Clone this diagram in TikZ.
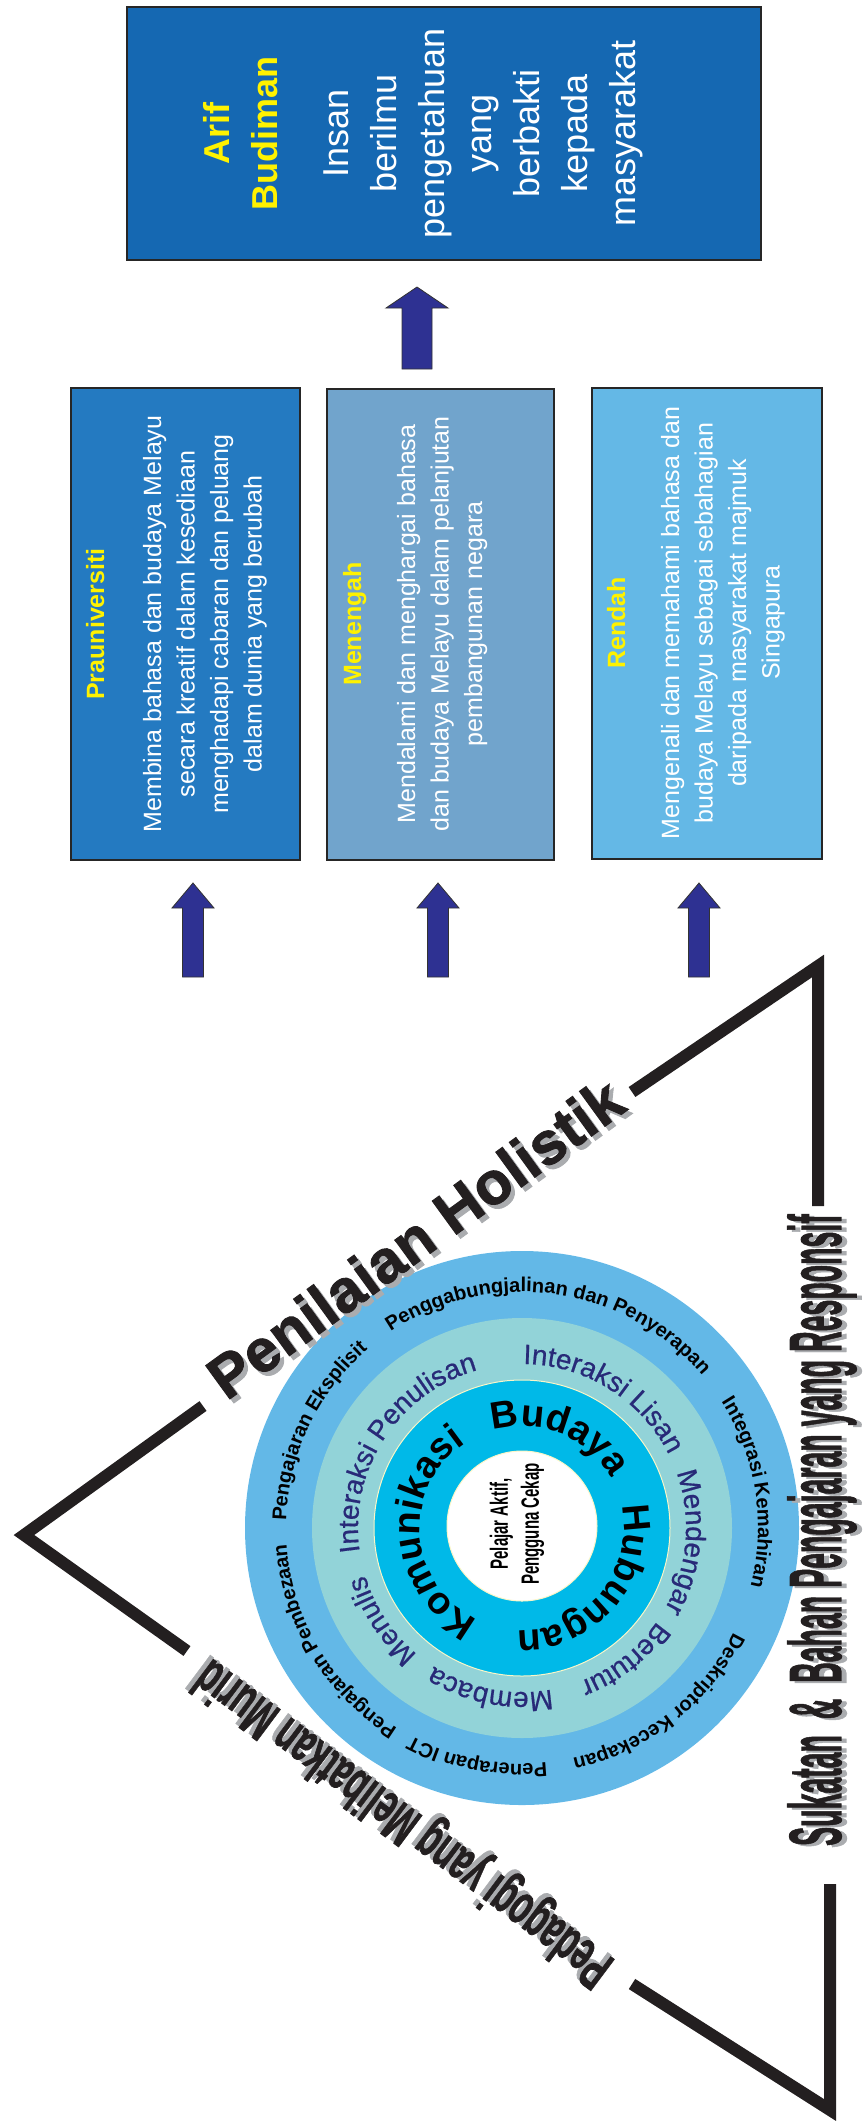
\documentclass[tikz,border=0pt]{standalone}
\usepackage{fontspec}
\usepackage{graphicx}
\setmainfont{Liberation Sans}
\newfontfamily\heavy[BoldFeatures={FakeBold=1.5}]{Liberation Sans}
\newfontfamily\medfont[FakeBold=0.6]{Liberation Sans}
\usetikzlibrary{decorations.text}
\definecolor{arifblue}{RGB}{21,104,178}
\definecolor{prablue}{RGB}{36,122,193}
\definecolor{menblue}{RGB}{113,164,204}
\definecolor{renblue}{RGB}{100,184,230}
\definecolor{ringout}{RGB}{99,184,231}
\definecolor{ringteal}{RGB}{146,211,216}
\definecolor{ringcyan}{RGB}{0,185,232}
\definecolor{arrowblue}{RGB}{46,49,146}
\definecolor{txtyellow}{RGB}{255,242,0}
\definecolor{linegray}{RGB}{35,31,32}
\definecolor{shadowgray}{RGB}{170,172,175}
\definecolor{navytext}{RGB}{40,42,120}
\definecolor{cream}{RGB}{250,246,200}
\newcommand\ringtext[4]{\path[decorate,decoration={text along path,text align=center,text={|#3|#4}}] ({#2+80}:#1) arc[start angle={#2+80},end angle={#2-80},radius=#1];}
\begin{document}
\begin{tikzpicture}[x=1pt,y=-1pt,
  box/.style={draw=black!85, line width=1.2pt, inner sep=0pt, outer sep=0pt},
  rline/.style={rotate=90, anchor=base, inner sep=0pt},
  ttl/.style={rline, text=txtyellow, font=\bfseries\fontsize{25}{25}\selectfont},
  bodytxt/.style={rline, text=white, font=\fontsize{25}{25}\selectfont},
  bigtxt/.style={rline, text=white, font=\fontsize{36}{36}\selectfont},
  bigttl/.style={rline, text=txtyellow, font=\bfseries\fontsize{36}{36}\selectfont},
  barrow/.style={fill=arrowblue, draw=black!80, line width=0.8pt},
  tri/.style={draw=linegray, line width=12pt, miter limit=10, line join=miter},
  heading/.style={inner sep=0pt, font=\heavy\bfseries\fontsize{#1}{#1}\selectfont},
]
\useasboundingbox (0,0) rectangle (862,2127);

% ---- top box
\node[box, fill=arifblue, minimum width=634pt, minimum height=253pt] (arif) at (444,133.5) {};
\node[bigttl] (a1) at (229,133.5) {Arif};
\node[bigttl] (a2) at (277,133.5) {Budiman};
\node[bigtxt] (a3) at (348,133.5) {Insan};
\node[bigtxt] (a4) at (396,133.5) {berilmu};
\node[bigtxt] (a5) at (444,133.5) {pengetahuan};
\node[bigtxt] (a6) at (491,133.5) {yang};
\node[bigtxt] (a7) at (539,133.5) {berbakti};
\node[bigtxt] (a8) at (587,133.5) {kepada};
\node[bigtxt] (a9) at (635,133.5) {masyarakat};

\filldraw[barrow] (417,287) -- (448,308) -- (432,308) -- (432,369) -- (402,369) -- (402,308) -- (386,308) -- cycle;

% ---- level boxes
\node[box, fill=prablue, minimum width=229pt, minimum height=472pt] (pra) at (185.5,624) {};
\node[box, fill=menblue, minimum width=227pt, minimum height=471pt] (men) at (440.5,624.5) {};
\node[box, fill=renblue, minimum width=230pt, minimum height=471pt] (ren) at (707,623.5) {};

\node[ttl] (p0) at (104,624) {Prauniversiti};
\node[bodytxt] (p1) at (161,624) {Membina bahasa dan budaya Melayu};
\node[bodytxt] (p2) at (194.5,624) {secara kreatif dalam kesediaan};
\node[bodytxt] (p3) at (228,624) {menghadapi cabaran dan peluang};
\node[bodytxt] (p4) at (261.5,624) {dalam dunia yang berubah};

\node[ttl] (m0) at (361,624) {Menengah};
\node[bodytxt] (m1) at (415,624) {Mendalami dan menghargai bahasa};
\node[bodytxt] (m2) at (448.5,624) {dan budaya Melayu dalam pelanjutan};
\node[bodytxt] (m3) at (482,624) {pembangunan negara};

\node[ttl] (r0) at (625,623) {Rendah};
\node[bodytxt] (r1) at (679,623) {Mengenali dan memahami bahasa dan};
\node[bodytxt] (r2) at (712.5,623) {budaya Melayu sebagai sebahagian};
\node[bodytxt] (r3) at (746,623) {daripada masyarakat majmuk};
\node[bodytxt] (r4) at (779.5,623) {Singapura};

\foreach \ax in {193,438,699}{
  \filldraw[barrow] (\ax,883) -- (\ax+21,908) -- (\ax+10.5,908) -- (\ax+10.5,977) -- (\ax-10.5,977) -- (\ax-10.5,908) -- (\ax-21,908) -- cycle;
}

% ---- triangle
\draw[tri] (203,1406) -- (24,1535) -- (187,1651);
\draw[tri] (632,1092) -- (818,966) -- (818,1206);
\draw[tri] (632,1984) -- (830,2110) -- (830,1884);

% ---- rings
\begin{scope}[shift={(522,1528)}, y=1pt]
\fill[ringout] (0,0) circle[radius=277];
\fill[ringteal] (0,0) circle[radius=210];
\filldraw[fill=ringcyan, draw=cream, line width=1pt] (0,0) circle[radius=148];
\filldraw[fill=white, draw=cream, line width=1pt] (0,2) circle[radius=75];

\ringtext{236}{154.5}{\bfseries\fontsize{20}{20}\selectfont}{Pengajaran Eksplisit}
\ringtext{236}{82}{\bfseries\fontsize{20}{20}\selectfont}{Penggabungjalinan dan Penyerapan}
\ringtext{236}{9}{\bfseries\fontsize{20}{20}\selectfont}{Integrasi Kemahiran}
\ringtext{236}{-52}{\bfseries\fontsize{20}{20}\selectfont}{Deskriptor Kecekapan}
\ringtext{236}{-101}{\bfseries\fontsize{20}{20}\selectfont}{Penerapan ICT}
\ringtext{236}{-149}{\bfseries\fontsize{20}{20}\selectfont}{Pengajaran Pembezaan}

\ringtext{164}{147}{\color{navytext}\medfont\fontsize{28}{28}\selectfont}{Interaksi Penulisan}
\ringtext{164}{58}{\color{navytext}\medfont\fontsize{28}{28}\selectfont}{Interaksi Lisan}
\ringtext{164}{-5}{\color{navytext}\medfont\fontsize{28}{28}\selectfont}{Mendengar}
\ringtext{164}{-52}{\color{navytext}\medfont\fontsize{28}{28}\selectfont}{Bertutur}
\ringtext{164}{-101}{\color{navytext}\medfont\fontsize{28}{28}\selectfont}{Membaca}
\ringtext{164}{-146.5}{\color{navytext}\medfont\fontsize{28}{28}\selectfont}{Menulis}

\ringtext{102}{184}{\bfseries\fontsize{38}{38}\selectfont}{Komunikasi}
\ringtext{102}{68}{\bfseries\fontsize{38}{38}\selectfont}{Budaya}
\ringtext{102}{-40}{\bfseries\fontsize{38}{38}\selectfont}{Hubungan}

\node[rotate=90, align=center, inner sep=0pt, font=\bfseries\fontsize{25}{31}\selectfont] (ctr) at (-5,4)
  {\scalebox{0.6}[1]{Pelajar Aktif,}\\\scalebox{0.6}[1]{Pengguna Cekap}};
\end{scope}

% ---- triangle labels
\node[heading=60, rotate=36, text=shadowgray] (phs) at (419,1242) {Penilaian Holistik};
\node[heading=60, rotate=36, text=linegray] (ph) at (415,1238) {Penilaian Holistik};

\node[heading=57, rotate=143.2, text=shadowgray] (pgs) at (402,1817) {\scalebox{0.57}[1]{Pedagogi yang Melibatkan Murid}};
\node[heading=57, rotate=143.2, text=linegray] (pg) at (405,1821) {\scalebox{0.57}[1]{Pedagogi yang Melibatkan Murid}};

\node[heading=74, rotate=90, text=shadowgray] (sks) at (827,1532) {\scalebox{0.385}[1]{Sukatan\ \ \&\ \ Bahan Pengajaran yang Responsif}};
\node[heading=74, rotate=90, text=linegray] (sk) at (822,1530) {\scalebox{0.385}[1]{Sukatan\ \ \&\ \ Bahan Pengajaran yang Responsif}};
\end{tikzpicture}
\end{document}
